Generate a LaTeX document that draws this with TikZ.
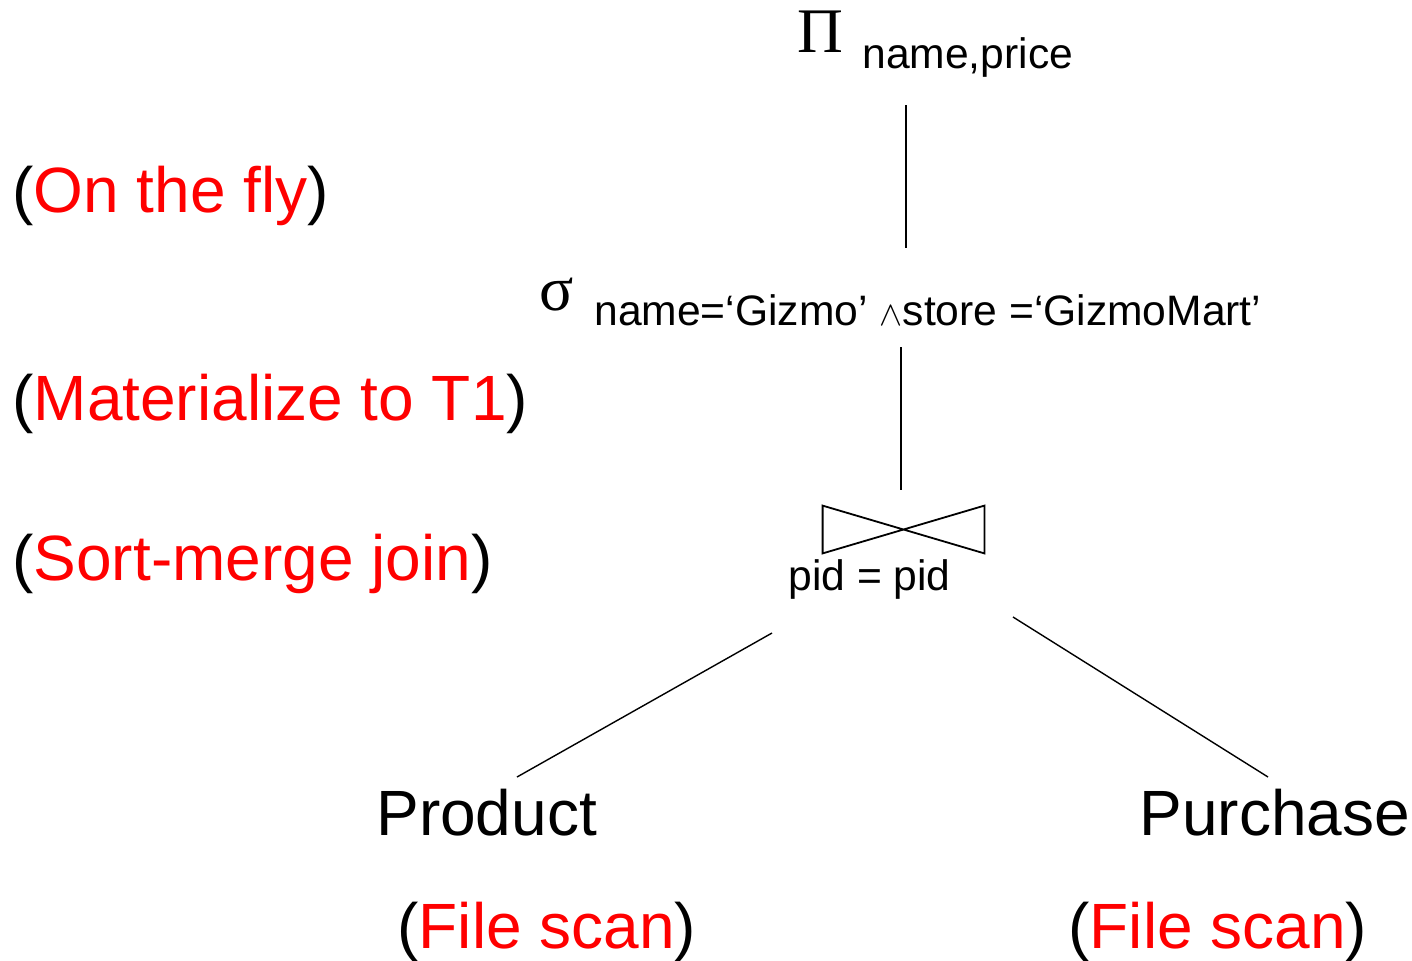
\documentclass[tikz,border=0pt]{standalone}
\usepackage{fontspec}
\setmainfont{Liberation Sans}
\newfontfamily\greekfont{Liberation Serif}
\usepackage{tikz}
\usetikzlibrary{positioning,calc}
\definecolor{notered}{RGB}{255,0,0}
\tikzset{
  big label/.style={
    anchor=base west,
    inner sep=0pt,
    font=\fontsize{32}{38}\selectfont
  },
  sub label/.style={
    anchor=base west,
    inner sep=0pt,
    font=\fontsize{21.3}{25}\selectfont
  },
  op symbol/.style={
    anchor=base west,
    inner sep=0pt,
    font=\greekfont\fontsize{31.75}{38}\selectfont
  },
  tree edge/.style={
    draw,
    line width=0.7pt
  },
  bowtie/.style={
    draw,
    line width=0.9pt
  }
}
\newcommand{\plannote}[1]{(\textcolor{notered}{#1})}

\begin{document}
\begin{tikzpicture}[x=0.5pt, y=-0.5pt]
  \useasboundingbox (0,0) rectangle (1412,960);

  % Notes on the left
  \node[big label] (fly) at (12,212) {\plannote{On the fly}};
  \node[big label] (mat) at (12,420) {\plannote{Materialize to T1}};
  \node[big label] (smj) at (12,580) {\plannote{Sort-merge join}};

  % Projection
  \node[op symbol] (proj) at (797,52) {Π};
  \node[sub label] (projsub) at (862,68) {name,price};

  % Selection
  \node[op symbol] (sel) at (539,310) {σ};
  \node[sub label] (selsub) at (594,325) {name=‘Gizmo’ {\fontsize{17}{19}\selectfont$\wedge$}store =‘GizmoMart’};

  % Join
  \node[minimum width=80.5pt, minimum height=23.5pt, inner sep=0pt] (join) at (903.5,529.5) {};
  \draw[bowtie] (join.north west) -- (join.south west) -- (join.north east) -- (join.south east) -- cycle;
  \node[sub label] (pid) at (788,590) {pid = pid};

  % Relations
  \node[big label] (prod) at (376,835) {Product};
  \node[big label] (purch) at (1139,835) {Purchase};
  \node[big label] (scan1) at (397,948) {\plannote{File scan}};
  \node[big label] (scan2) at (1068,948) {\plannote{File scan}};

  % Edge ends
  \coordinate (proj-out) at (906,105);
  \coordinate (sel-in) at (906,248);
  \coordinate (sel-out) at (901,347);
  \coordinate (join-in) at (901,490);
  \coordinate (join-left) at (772,633);
  \coordinate (prod-in) at (517,777);
  \coordinate (join-right) at (1013,617);
  \coordinate (purch-in) at (1268,777);

  % Connections
  \draw[tree edge] (proj-out) -- (sel-in);
  \draw[tree edge] (sel-out) -- (join-in);
  \draw[tree edge] (join-left) -- (prod-in);
  \draw[tree edge] (join-right) -- (purch-in);

\end{tikzpicture}
\end{document}
